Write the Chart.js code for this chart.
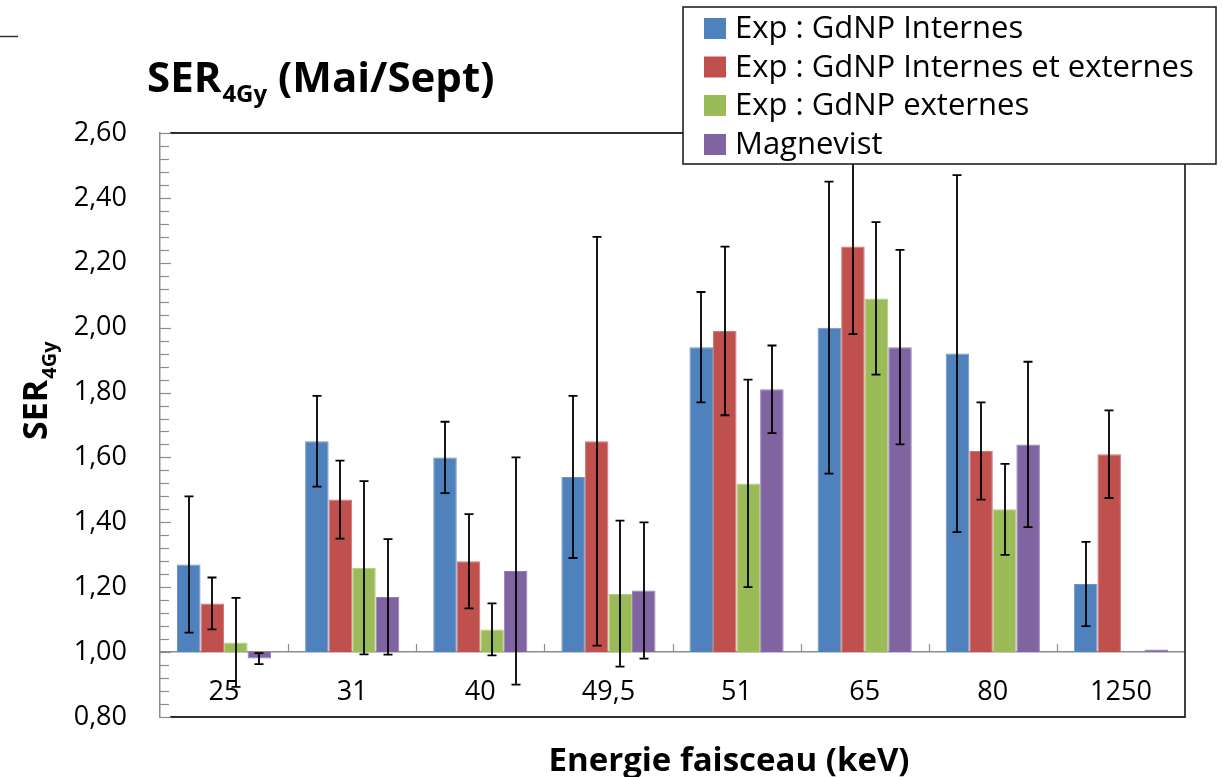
<!DOCTYPE html>
<html><head><meta charset="utf-8">
<script src="https://cdn.jsdelivr.net/npm/chart.js@4/dist/chart.umd.min.js"></script>
<style>html,body{margin:0;padding:0;background:#fff;}</style>
</head><body>
<canvas id="c" width="1223" height="777"></canvas>
<script>
const categories = ['25', '31', '40', '49,5', '51', '65', '80', '1250'];
const seriesLabels = ['Exp : GdNP Internes', 'Exp : GdNP Internes et externes', 'Exp : GdNP externes', 'Magnevist'];
const internes      = [1.27, 1.65, 1.60, 1.54, 1.94, 2.00, 1.92, 1.21];
const internesErr   = [0.21, 0.14, 0.11, 0.25, 0.17, 0.45, 0.55, 0.13];
const intExt        = [1.15, 1.47, 1.28, 1.65, 1.99, 2.25, 1.62, 1.61];
const intExtErr     = [0.08, 0.12, 0.145, 0.63, 0.26, 0.27, 0.15, 0.135];
const externes      = [1.03, 1.26, 1.07, 1.18, 1.52, 2.09, 1.44, null];
const externesErr   = [0.137, 0.267, 0.08, 0.225, 0.32, 0.235, 0.14, null];
const magnevist     = [0.98, 1.17, 1.25, 1.19, 1.81, 1.94, 1.64, 1.008];
const magnevistErr  = [0.017, 0.178, 0.35, 0.21, 0.135, 0.30, 0.255, null];
const yMin = 0.8, yMax = 2.6, yStep = 0.2, yMinorStep = 0.04, barBase = 1.0;

const FONT = "'Open Sans', sans-serif";
const colors = ['#4F81BD', '#C0504D', '#9BBB59', '#8064A2'];
const edge = ['#6d94c6', '#d07674', '#b0cc7a', '#957dba'];

function mk(i, data, errs) {
  return {
    label: seriesLabels[i], data: data, errors: errs, base: barBase,
    backgroundColor: colors[i], borderColor: edge[i], borderWidth: 1,
    categoryPercentage: 0.735, barPercentage: 1.0
  };
}

const decor = {
  id: 'decor',
  beforeDatasetsDraw(chart) {
    const ctx = chart.ctx, ca = chart.chartArea, ys = chart.scales.y, xs = chart.scales.x;
    ctx.save();
    ctx.strokeStyle = '#2e2e2e'; ctx.lineWidth = 1.8;
    ctx.beginPath();
    ctx.moveTo(ca.left + 10, ca.top); ctx.lineTo(ca.right, ca.top); ctx.lineTo(ca.right, ca.bottom); ctx.lineTo(ca.left + 10, ca.bottom);
    ctx.stroke();
    ctx.strokeStyle = '#8c8c8c'; ctx.lineWidth = 1.2;
    const n = Math.round((yMax - yMin) / yMinorStep);
    for (let k = 0; k <= n; k++) {
      const py = Math.round(ys.getPixelForValue(yMin + k * yMinorStep)) + 0.5;
      const len = (k % 5 === 0) ? 11 : 9;
      ctx.beginPath(); ctx.moveTo(ca.left, py); ctx.lineTo(ca.left + len, py); ctx.stroke();
    }
    const y1 = ys.getPixelForValue(barBase);
    for (let i = 1; i < categories.length; i++) {
      const px = Math.round((xs.getPixelForTick(i - 1) + xs.getPixelForTick(i)) / 2) + 0.5;
      ctx.beginPath(); ctx.moveTo(px, y1); ctx.lineTo(px, y1 - 8); ctx.stroke();
    }
    ctx.restore();
  },
  afterDatasetsDraw(chart) {
    const ctx = chart.ctx, ys = chart.scales.y;
    ctx.save();
    ctx.strokeStyle = '#000'; ctx.lineWidth = 1.8;
    chart.data.datasets.forEach((ds, di) => {
      const meta = chart.getDatasetMeta(di);
      meta.data.forEach((bar, i) => {
        const v = ds.data[i], e = ds.errors[i];
        if (v == null || e == null) return;
        const x = Math.round(bar.x);
        const yt = ys.getPixelForValue(v + e), yb = ys.getPixelForValue(v - e);
        ctx.beginPath();
        ctx.moveTo(x, yt); ctx.lineTo(x, yb);
        ctx.moveTo(x - 4.5, yt); ctx.lineTo(x + 4.5, yt);
        ctx.moveTo(x - 4.5, yb); ctx.lineTo(x + 4.5, yb);
        ctx.stroke();
      });
    });
    ctx.restore();
  },
  afterDraw(chart) {
    const ctx = chart.ctx;
    ctx.save();
    ctx.fillStyle = '#000';
    ctx.textBaseline = 'alphabetic';
    ctx.strokeStyle = '#333'; ctx.lineWidth = 1.5;
    ctx.beginPath(); ctx.moveTo(0, 36.5); ctx.lineTo(18, 36.5); ctx.stroke();
    // main title
    let x = 147, base = 92;
    ctx.font = 'bold 42px ' + FONT; ctx.fillText('SER', x, base); x += ctx.measureText('SER').width + 1;
    ctx.font = 'bold 24px ' + FONT; ctx.fillText('4Gy', x, base + 10); x += ctx.measureText('4Gy').width;
    ctx.font = 'bold 42px ' + FONT; ctx.fillText(' (Mai/Sept)', x, base);
    // y axis title (rotated)
    ctx.save();
    ctx.translate(47, 440); ctx.rotate(-Math.PI / 2);
    ctx.font = 'bold 34px ' + FONT; ctx.fillText('SER', 0, 0);
    let w = ctx.measureText('SER').width + 1;
    ctx.font = 'bold 20px ' + FONT; ctx.fillText('4Gy', w, 9);
    ctx.restore();
    // x axis title
    ctx.font = 'bold 33px ' + FONT; ctx.textAlign = 'center';
    ctx.fillText('Energie faisceau (keV)', 729, 771);
    ctx.textAlign = 'left';
    // legend box
    ctx.fillStyle = '#fff'; ctx.fillRect(683, 7, 533, 157);
    ctx.strokeStyle = '#222'; ctx.lineWidth = 1.6; ctx.strokeRect(683, 7, 533, 157);
    const rows = [28.5, 67, 105.5, 144.5];
    ctx.font = '31px ' + FONT; ctx.textBaseline = 'middle';
    chart.data.datasets.forEach((ds, i) => {
      ctx.fillStyle = ds.backgroundColor; ctx.fillRect(704, rows[i] - 10.5, 22, 21);
      ctx.fillStyle = '#000'; ctx.fillText(ds.label, 735, rows[i] + 1);
    });
    ctx.restore();
  }
};

new Chart(document.getElementById('c'), {
  type: 'bar',
  data: {
    labels: categories,
    datasets: [mk(0, internes, internesErr), mk(1, intExt, intExtErr), mk(2, externes, externesErr), mk(3, magnevist, magnevistErr)]
  },
  options: {
    responsive: false, animation: false, devicePixelRatio: 1,
    layout: { padding: { left: 0, right: 38, top: 133, bottom: 60 } },
    plugins: { legend: { display: false }, title: { display: false }, tooltip: { enabled: false } },
    scales: {
      x: {
        type: 'category', axis: 'x', position: { y: barBase }, offset: true,
        grid: { display: false, drawTicks: false },
        border: { display: true, color: '#8c8c8c', width: 1.5 },
        ticks: { color: '#000', font: { family: FONT, size: 27 }, padding: 24, maxRotation: 0, autoSkip: false }
      },
      y: {
        position: 'left', min: yMin, max: yMax,
        grid: { display: false, drawTicks: false },
        border: { display: true, color: '#8c8c8c', width: 1.5 },
        ticks: { stepSize: yStep, color: '#000', font: { family: FONT, size: 27 }, padding: 33,
                 callback: v => Number(v).toFixed(2).replace('.', ',') },
        afterFit: s => { s.width = 160; }
      }
    }
  },
  plugins: [decor]
});
</script>
</body></html>
